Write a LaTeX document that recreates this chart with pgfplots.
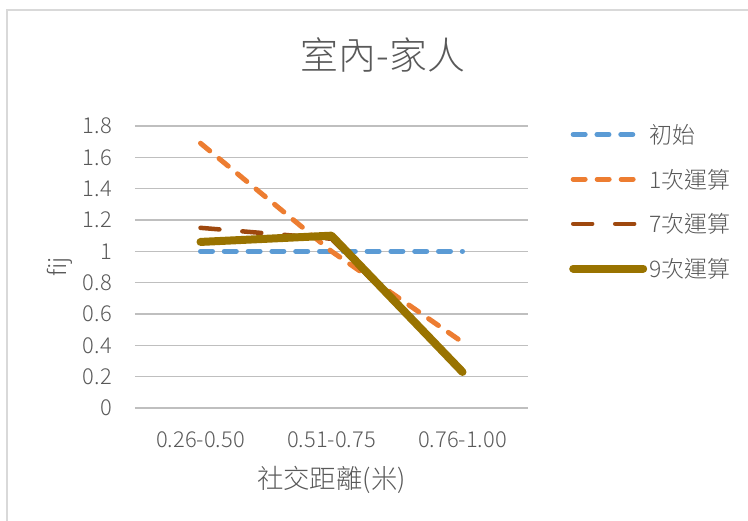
\documentclass[border=0pt]{standalone}
\usepackage{pgfplots}
\pgfplotsset{compat=1.18}
\usepackage{fontspec}
\setmainfont{Noto Sans CJK TC}[UprightFont={* Light}]
\definecolor{txt}{HTML}{595959}
\definecolor{grid}{HTML}{D9D9D9}
\definecolor{c1}{HTML}{5B9BD5}
\definecolor{c2}{HTML}{ED7D31}
\definecolor{c3}{HTML}{9E480E}
\definecolor{c4}{HTML}{997300}
\begin{document}
\begin{tikzpicture}
\useasboundingbox (-135bp,-113bp) rectangle (613bp,408bp);
\draw[grid, line width=1.5bp] (-128bp,-130bp) rectangle (630bp,398bp);
\begin{axis}[
  at={(0,0)}, anchor=south west,
  scale only axis, width=393bp, height=282bp,
  xmin=-0.5, xmax=2.5, ymin=0, ymax=1.8,
  xtick={0,1,2}, xticklabels={0.26-0.50,0.51-0.75,0.76-1.00},
  ytick={0,0.2,...,1.8},
  /pgf/number format/.cd, fixed, precision=1, assume math mode=true,
  /pgfplots/.cd,
  xmajorgrids=false, ymajorgrids=true, grid style={grid, line width=1.2bp},
  axis line style={draw=none},
  major tick length=0pt, tick style={draw=none},
  tick label style={font=\fontsize{22}{26}\selectfont, text=txt},
  xticklabel style={anchor=center, yshift=-32bp, inner sep=0pt},
  yticklabel style={anchor=east, xshift=-23bp, inner sep=0pt},
  xlabel={社交距離(米)},
  xlabel style={font=\fontsize{26.5}{30}\selectfont, text=txt, at={(axis description cs:0.5,0)}, anchor=center, yshift=-72bp},
  ylabel={fij},
  ylabel style={font=\fontsize{24}{28}\selectfont, text=txt, at={(axis description cs:-0.191,0.5)}, anchor=center},
  legend style={at={(rel axis cs:1,1)}, anchor=north west, xshift=38bp, yshift=6bp, draw=none, fill=none,
    font=\fontsize{23}{27}\selectfont, text=txt, row sep=20bp,
    nodes={inner sep=2bp}},
  legend cell align=left,
  legend image code/.code={\draw[#1] (0bp,0bp) -- (70bp,0bp);},
  clip=false,
]
\addplot[c1, line width=5bp, line cap=round, dash pattern=on 12bp off 11.8bp] coordinates {(0,1) (1,1) (2,1)};
\addlegendentry{初始}
\addplot[c2, line width=5bp, line cap=round, dash pattern=on 12bp off 12bp] coordinates {(0,1.69) (1,1.0) (2,0.42)};
\addlegendentry{1次運算}
\addplot[c3, line width=4.5bp, line cap=round, dash pattern=on 19bp off 23bp] coordinates {(0,1.15) (1,1.08) (2,0.23)};
\addlegendentry{7次運算}
\addplot[c4, line width=8bp, line cap=round, line join=round] coordinates {(0,1.06) (1,1.10) (2,0.23)};
\addlegendentry{9次運算}
\end{axis}
\node[font=\fontsize{38}{42}\selectfont, text=txt] at (248bp,353bp) {室內-家人};
\end{tikzpicture}
\end{document}
